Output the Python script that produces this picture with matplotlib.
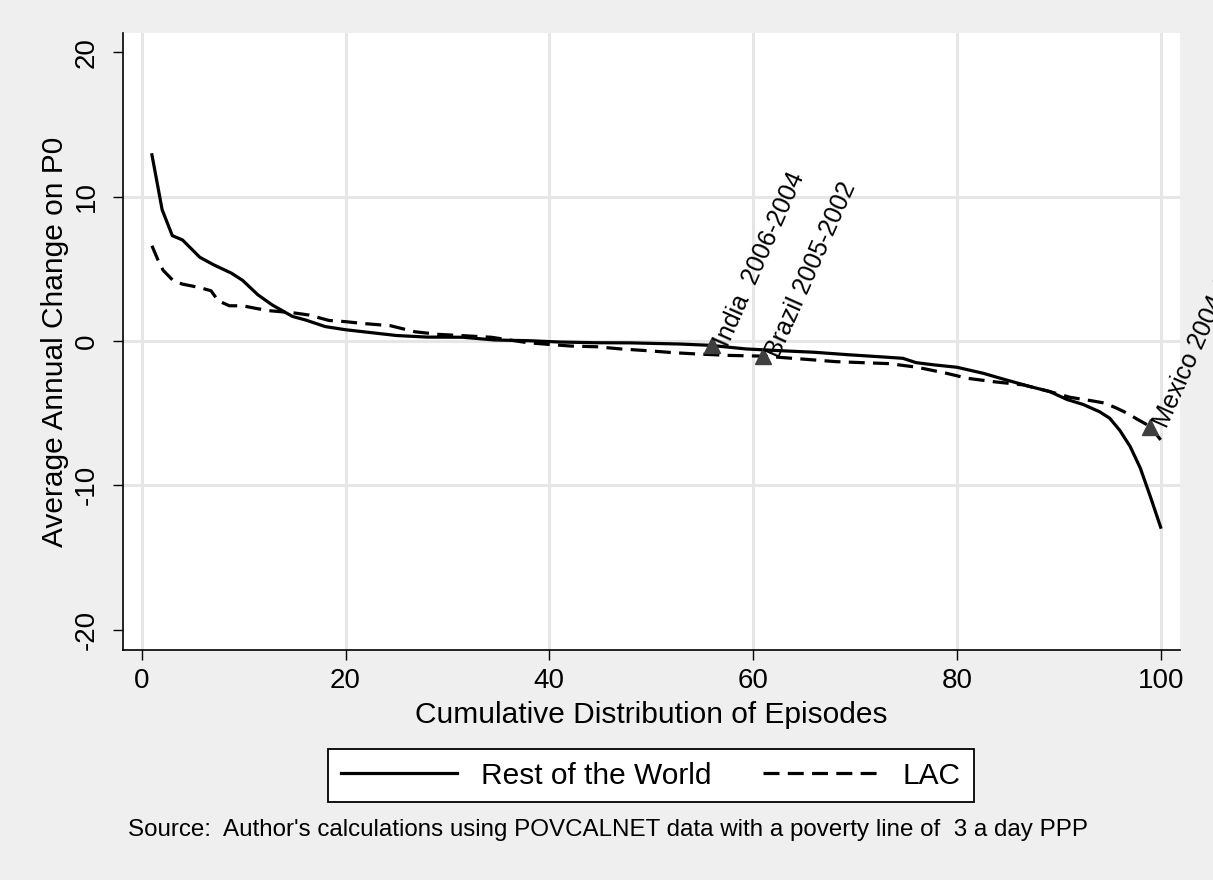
import matplotlib
matplotlib.use("Agg")
import matplotlib.pyplot as plt

plt.rcParams['font.family'] = ['Liberation Sans', 'DejaVu Sans']
plt.rcParams['axes.unicode_minus'] = False

# Cumulative distribution of poverty episodes (x = percentile of episodes)
row_x = [1, 2, 3, 4, 5.7, 7, 8.8, 9.9, 11.4, 12.8, 14.8, 16.1, 18, 20, 22, 25,
         28, 31.5, 34.6, 38, 41, 44.5, 48, 52.8, 55.8, 59.3, 62.6, 66, 69.3,
         72.4, 74.7, 76, 77.7, 80, 82.6, 84.6, 87.2, 89.1, 90.8, 92.4, 94, 95,
         96, 97, 98, 99, 100]
row_y = [12.9, 9.1, 7.3, 7.0, 5.8, 5.3, 4.7, 4.2, 3.2, 2.5, 1.7, 1.45, 1.0,
         0.78, 0.62, 0.38, 0.27, 0.26, 0.07, 0.02, -0.07, -0.12, -0.13, -0.21,
         -0.3, -0.55, -0.67, -0.78, -0.95, -1.09, -1.2, -1.5, -1.65, -1.82,
         -2.24, -2.65, -3.16, -3.5, -4.05, -4.4, -4.9, -5.35, -6.2, -7.3, -8.8,
         -10.8, -12.9]

lac_x = [1, 1.6, 2.1, 3.1, 4, 5.7, 6.8, 7.5, 8.6, 9.9, 11.2, 12.5, 14.8, 16.4,
         18.4, 20, 21.6, 24.4, 26.8, 29.1, 32, 34.3, 37.9, 39.5, 42.1, 44.7,
         47, 49.6, 52.2, 54.5, 57.7, 61, 65.2, 68.1, 70.7, 73.4, 76.1, 79, 81,
         83.6, 86.5, 89.1, 91.1, 93.3, 94.5, 95.7, 96.7, 97.7, 99, 100]
lac_y = [6.6, 5.6, 4.9, 4.17, 3.94, 3.7, 3.48, 2.79, 2.44, 2.44, 2.26, 2.1,
         1.96, 1.8, 1.42, 1.34, 1.22, 1.06, 0.64, 0.46, 0.35, 0.26, -0.12,
         -0.21, -0.35, -0.4, -0.55, -0.67, -0.81, -0.9, -1.0, -1.05, -1.27,
         -1.43, -1.5, -1.57, -1.82, -2.24, -2.58, -2.82, -3.04, -3.5, -3.9,
         -4.15, -4.3, -4.66, -5.0, -5.42, -5.93, -6.85]

# Highlighted episodes
hl_x = [56, 61, 99]
hl_y = [-0.3, -1.05, -5.93]
hl_labels = ["India  2006-2004", "Brazil 2005-2002", "Mexico 2004-2002"]

xticks = [0, 20, 40, 60, 80, 100]
yticks = [-20, -10, 0, 10, 20]

W, H = 1213, 880
fig = plt.figure(figsize=(W / 100, H / 100), dpi=100, facecolor='#efefef')
ax = fig.add_axes([123 / W, 1 - 650 / H, (1180 - 123) / W, (650 - 33) / H])
ax.set_facecolor('white')

l1, = ax.plot(row_x, row_y, color='black', lw=2.3, label='Rest of the World')
l2, = ax.plot(lac_x, lac_y, color='black', lw=2.3, dashes=(5, 2.6),
              label='LAC')
ax.plot(hl_x, hl_y, linestyle='none', marker='^', ms=12, color='#3f3f3f')
for x, y, t in zip(hl_x, hl_y, hl_labels):
    ax.annotate(t, (x, y), xytext=(7, 0), textcoords='offset points',
                rotation=66, rotation_mode='anchor', ha='left', va='center',
                fontsize=18, annotation_clip=False)

ax.set_xlim(-1.84, 101.9)
ax.set_ylim(-21.41, 21.34)
ax.set_xticks(xticks)
ax.set_yticks(yticks)
ax.tick_params(axis='both', length=7, width=1, labelsize=20, color='black')
ax.tick_params(axis='x', pad=6)
ax.tick_params(axis='y', pad=10)
for lab in ax.get_yticklabels():
    lab.set_rotation(90)
    lab.set_va('center')

ax.set_axisbelow(True)
ax.grid(True, color='#e6e6e6', lw=2.2)
# no gridline at the ends of the y range
for gl, v in zip(ax.yaxis.get_gridlines(), yticks):
    if abs(v) == 20:
        gl.set_visible(False)

for side in ['top', 'right']:
    ax.spines[side].set_visible(False)
for side in ['left', 'bottom']:
    ax.spines[side].set_linewidth(1.2)

ax.set_xlabel('Cumulative Distribution of Episodes', fontsize=21.5)
ax.xaxis.set_label_coords(0.5, -0.083)
ax.set_ylabel('Average Annual Change on P0', fontsize=21.5)
ax.yaxis.set_label_coords(-0.051, 0.5)

leg = fig.legend(handles=[l1, l2], loc='center',
                 bbox_to_anchor=(651 / W, 1 - 775.5 / H), ncol=2,
                 fontsize=21.5, frameon=True, fancybox=False, framealpha=1,
                 handlelength=3.9, handletextpad=0.8, columnspacing=1.7,
                 borderpad=0.42)
leg.get_frame().set_edgecolor('black')
leg.get_frame().set_linewidth(1.3)
leg.get_frame().set_facecolor('white')

fig.text(128 / W, 1 - 830 / H,
         "Source:  Author's calculations using POVCALNET data with a poverty line of  3 a day PPP",
         fontsize=17.4, va='center', ha='left')

fig.savefig('out.png', dpi=100, facecolor=fig.get_facecolor())
